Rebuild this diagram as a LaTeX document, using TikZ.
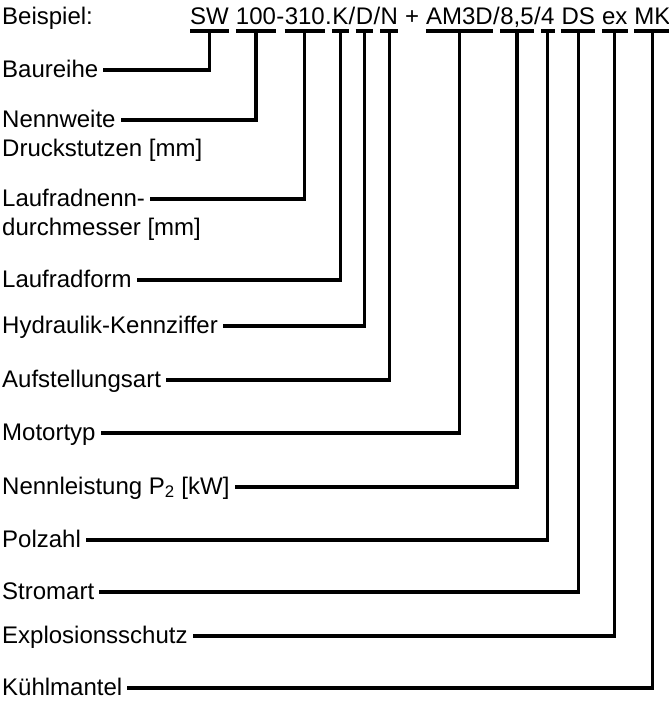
\documentclass[tikz,border=0pt]{standalone}
\usepackage{fontspec}
\setmainfont{Liberation Sans}
\usetikzlibrary{positioning, calc}

\begin{document}
\begin{tikzpicture}[x=1pt, y=-1pt,
  lbl/.style={font=\fontsize{24}{29}\selectfont, text height=17.5pt, text depth=3.5pt,
    inner xsep=5pt, inner ysep=4pt, anchor=west},
  code/.style={font=\fontsize{24}{29}\selectfont, text height=17.5pt, text depth=3.5pt,
    inner sep=0pt},
  bar/.style={line width=3.2pt},
  conn/.style={line width=3.2pt}
]
\useasboundingbox (0,0) rectangle (669,702);

% Beispiel
\node (beispiel) [lbl] at (-3,17) {Beispiel:};

% Typschluessel
\node (sw) [code, anchor=west] at (190,17) {SW};
\node (dn) [code, right=6.7pt of sw] {100};
\node (m1) [code, right=0pt of dn] {-};
\node (lr) [code, right=0pt of m1] {310};
\node (p1) [code, right=0pt of lr] {.};
\node (k) [code, right=0pt of p1] {K};
\node (s1) [code, right=0pt of k] {/};
\node (hk) [code, right=0pt of s1] {D};
\node (s2) [code, right=0pt of hk] {/};
\node (aa) [code, right=0pt of s2] {N};
\node (plus) [code, right=6.7pt of aa] {+};
\node (mt) [code, right=6.7pt of plus] {AM3D};
\node (s3) [code, right=0pt of mt] {/};
\node (pl) [code, right=0pt of s3] {8,5};
\node (s4) [code, right=0pt of pl] {/};
\node (pz) [code, right=0pt of s4] {4};
\node (ds) [code, right=6.7pt of pz] {DS};
\node (ex) [code, right=6.7pt of ds] {ex};
\node (mk) [code, right=6.7pt of ex] {MK};

% Bezeichnungen
\node (baureihe) [lbl] at (-3,70) {Baureihe};
\node (nennweite) [lbl] at (-3,120) {Nennweite};
\node (nennweite2) [lbl, below=0pt of nennweite.south west, anchor=north west] {Druckstutzen [mm]};
\node (laufrad) [lbl] at (-3,199) {Laufradnenn-};
\node (laufrad2) [lbl, below=0pt of laufrad.south west, anchor=north west] {durchmesser [mm]};
\node (laufradform) [lbl] at (-3,280) {Laufradform};
\node (hydraulik) [lbl] at (-3,326) {Hydraulik-Kennziffer};
\node (aufstellung) [lbl] at (-3,380) {Aufstellungsart};
\node (motortyp) [lbl] at (-3,433) {Motortyp};
\node (leistung) [lbl] at (-3,487) {Nennleistung P\textsubscript{2} [kW]\ };
\node (polzahl) [lbl] at (-3,540) {Polzahl};
\node (stromart) [lbl] at (-3,592) {Stromart};
\node (explosion) [lbl] at (-3,636) {Explosionsschutz};
\node (kuehlmantel) [lbl] at (-3,688) {Kühlmantel};

% Unterstriche
\foreach \c in {sw,dn,lr,k,hk,aa,mt,pl,pz,ds,ex,mk}
  \draw [bar] ($(\c.base west)+(0,7)$) -- ($(\c.base east)+(0,7)$);

% Verbindungen
\foreach \c/\l in {sw/baureihe, dn/nennweite, lr/laufrad, k/laufradform, hk/hydraulik,
    aa/aufstellung, mt/motortyp, pl/leistung, pz/polzahl, ds/stromart, ex/explosion,
    mk/kuehlmantel}
  \draw [conn] ($(\c.base)+(0,7)$) |- (\l.east);

\end{tikzpicture}
\end{document}
